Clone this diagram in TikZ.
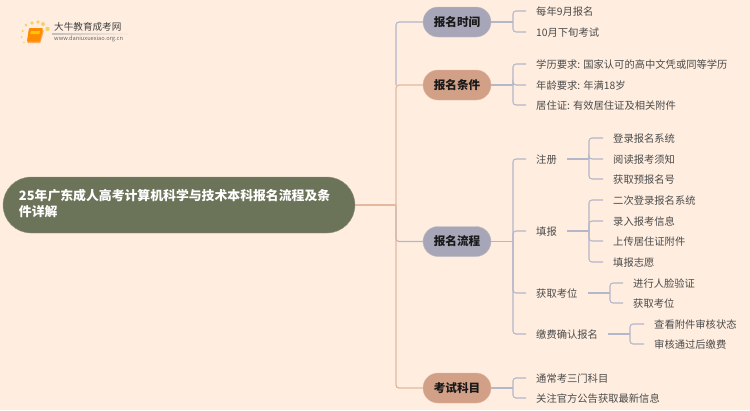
\documentclass[tikz,border=0pt]{standalone}
\usepackage{fontspec}
\setmainfont{Noto Sans CJK SC}
\usetikzlibrary {positioning,shapes.misc}
\definecolor{paper}{HTML}{FFEEE0}
\definecolor{rootfill}{HTML}{6B7359}
\definecolor{bluepill}{HTML}{A6A6B8}
\definecolor{clay}{HTML}{D2A086}
\definecolor{bluelink}{HTML}{B4B6CA}
\definecolor{claylink}{HTML}{E3B89E}
\definecolor{leaftext}{HTML}{4A4A4A}
\definecolor{sundot}{HTML}{F9CF6A}
\tikzset{
  pill/.style={rounded rectangle,minimum width=68pt,minimum height=30pt,inner sep=0pt,
    font=\bfseries\fontsize{11.6}{14}\selectfont,text=black!90},
  leaf/.style={anchor=west,inner xsep=10pt,inner ysep=0pt,text height=10pt,text depth=1pt,
    font=\fontsize{10.3}{12}\selectfont,text=leaftext},
  link/.style={draw=bluelink,line width=1.1pt,rounded corners=3pt},
  trunk/.style={draw=claylink,line width=1.3pt,rounded corners=3pt}
}
\begin{document}
\begin{tikzpicture}[x=1pt,y=-1pt]
\useasboundingbox [fill=paper] (0,0) rectangle (750,410);
% columns of the brackets
\coordinate (spine) at (396,0);
\coordinate (busA) at (513,0);
\coordinate (busB) at (589,0);
\coordinate (busC) at (610,0);
\coordinate (busD) at (630,0);
% logo
\foreach \dotx/\doty/\dotr in {22.7/31/1.2,26/25/1.5,32/23/1.8,38/22/1.9,43/24/2,47.5/29/2.2,21.7/37/1,24/42.5/.9}
\fill [sundot] (\dotx,\doty) circle (\dotr pt);
\fill [orange!60!paper,rounded corners=1pt] (29,30) -- (44,30) -- (40.5,43) -- (27,43) -- cycle;
\fill [orange!90!yellow,rounded corners=1pt] (29,28) -- (43,28) -- (40,41.5) -- (27,41.5) -- cycle;
\fill [yellow!60!orange] (31,31) -- (40,31) -- (39.3,34) -- (30.3,34) -- cycle;
\shade [left color=black!25,right color=paper] (52,33) rectangle (132,34);
\node [inner sep=0pt,anchor=west,font=\fontsize{9.6}{11}\selectfont,text=black!75] (logoname) at (54,27) {大牛教育成考网};
\node [inner sep=0pt,anchor=west,font=\fontsize{5.7}{7}\selectfont,text=black!60] (logourl) at (54,39) {www.daniuxuexiao.org.cn};
% root and branches
\node [rounded rectangle,fill=rootfill,draw=rootfill!70!paper,minimum width=352pt,minimum height=56pt,
  inner sep=0pt,align=left,text=white,font=\bfseries\fontsize{12.85}{16}\selectfont] (root) at (179,205)
  {\parbox{320pt}{25年广东成人高考计算机科学与技术本科报名流程及条\\件详解\par\vspace{2pt}}};
\node [pill,fill=bluepill,draw=bluepill!70!paper] (time) at (457,22) {报名时间};
\node [pill,fill=clay,draw=clay!70!paper] (cond) at (457,85) {报名条件};
\node [pill,fill=bluepill,draw=bluepill!70!paper] (flow) at (457,241.5) {报名流程};
\node [pill,fill=clay,draw=clay!70!paper] (exam) at (457,388) {考试科目};
% leaves
\node [leaf] (time1) at (526,11) {每年9月报名};
\node [leaf] (time2) at (526,32) {10月下旬考试};
\node [leaf] (cond1) at (526,64) {学历要求: 国家认可的高中文凭或同等学历};
\node [leaf] (cond2) at (526,85) {年龄要求: 年满18岁};
\node [leaf] (cond3) at (526,105) {居住证: 有效居住证及相关附件};
\node [leaf] (reg) at (526,159) {注册};
\node [leaf] (fill) at (526,231) {填报};
\node [leaf] (seat) at (526,293) {获取考位};
\node [leaf] (pay) at (526,334) {缴费确认报名};
\node [leaf] (reg1) at (603,138) {登录报名系统};
\node [leaf] (reg2) at (603,159) {阅读报考须知};
\node [leaf] (reg3) at (603,179) {获取预报名号};
\node [leaf] (fill1) at (603,200) {二次登录报名系统};
\node [leaf] (fill2) at (603,221) {录入报考信息};
\node [leaf] (fill3) at (603,241) {上传居住证附件};
\node [leaf] (fill4) at (603,262) {填报志愿};
\node [leaf] (seat1) at (623,283) {进行人脸验证};
\node [leaf] (seat2) at (623,303) {获取考位};
\node [leaf] (pay1) at (644,324) {查看附件审核状态};
\node [leaf] (pay2) at (644,344) {审核通过后缴费};
\node [leaf] (exam1) at (526,378) {通常考三门科目};
\node [leaf] (exam2) at (526,398) {关注官方公告获取最新信息};
% connectors
\draw [link] (spine |- cond.west) |- (time.west);
\draw [link] (spine |- root.east) |- (flow.west);
\draw [trunk] (root.east) -- (spine |- root.east);
\draw [trunk] (spine |- root.east) |- (cond.west);
\draw [trunk] (spine |- root.east) |- (exam.west);
\foreach \from/\bus/\kids in {time/busA/{time1,time2},cond/busA/{cond1,cond2,cond3},
  flow/busA/{reg,fill,seat,pay},exam/busA/{exam1,exam2},reg/busB/{reg1,reg2,reg3},
  fill/busB/{fill1,fill2,fill3,fill4},seat/busC/{seat1,seat2},pay/busD/{pay1,pay2}}{
\draw [link] (\from.east) -- (\bus |- \from.east);
\foreach \kid in \kids
\draw [link] (\bus |- \from.east) |- (\kid.west);
}
\end{tikzpicture}
\end{document}
